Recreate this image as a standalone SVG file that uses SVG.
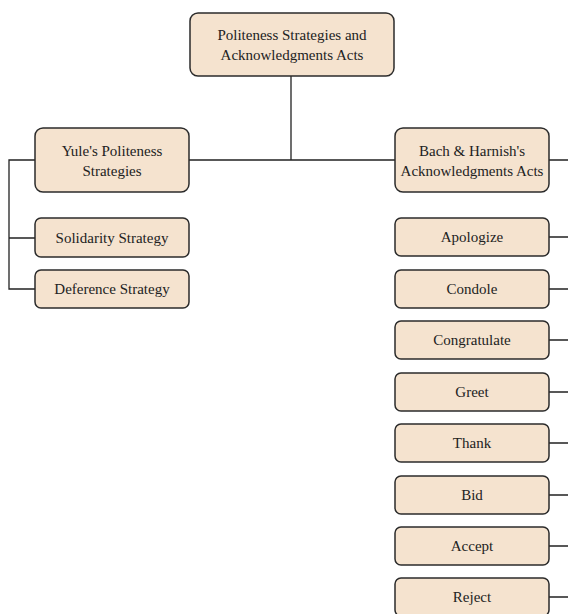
<svg xmlns="http://www.w3.org/2000/svg" width="568" height="614" viewBox="0 0 568 614">
<style>
.box{fill:#f5e3cf;stroke:#2b2b2b;stroke-width:1.5}
.t{font-family:"Liberation Serif","Times New Roman",serif;font-size:15px;fill:#222;text-anchor:middle}
.c{fill:none;stroke:#222;stroke-width:1.3}
</style>
<rect width="568" height="614" fill="#fff"/>
<g id="connectors">
<path class="c" d="M291 76V160M189 160H395M549 160H568"/>
<path class="c" d="M35 160H9V289H35M9 238H35"/>
<path class="c" d="M549 237H568M549 289H568M549 340H568M549 392H568M549 443H568M549 495H568M549 546H568M549 597H568"/>
</g>
<g id="root"><rect class="box" x="190" y="13" width="204" height="63" rx="8"/><text class="t" x="292" y="40">Politeness Strategies and</text><text class="t" x="292" y="60">Acknowledgments Acts</text></g>
<g id="yule"><rect class="box" x="35" y="128" width="154" height="64" rx="8"/><text class="t" x="112" y="156">Yule's Politeness</text><text class="t" x="112" y="176">Strategies</text></g>
<g id="solidarity"><rect class="box" x="35" y="218" width="154" height="39" rx="6"/><text class="t" x="112" y="243">Solidarity Strategy</text></g>
<g id="deference"><rect class="box" x="35" y="270" width="154" height="38" rx="6"/><text class="t" x="112" y="294">Deference Strategy</text></g>
<g id="bach"><rect class="box" x="395" y="128" width="154" height="64" rx="8"/><text class="t" x="472" y="156">Bach &amp; Harnish's</text><text class="t" x="472" y="176">Acknowledgments Acts</text></g>
<g id="apologize"><rect class="box" x="395" y="218" width="154" height="38" rx="6"/><text class="t" x="472" y="242">Apologize</text></g>
<g id="condole"><rect class="box" x="395" y="270" width="154" height="38" rx="6"/><text class="t" x="472" y="294">Condole</text></g>
<g id="congratulate"><rect class="box" x="395" y="321" width="154" height="38" rx="6"/><text class="t" x="472" y="345">Congratulate</text></g>
<g id="greet"><rect class="box" x="395" y="373" width="154" height="38" rx="6"/><text class="t" x="472" y="397">Greet</text></g>
<g id="thank"><rect class="box" x="395" y="424" width="154" height="38" rx="6"/><text class="t" x="472" y="448">Thank</text></g>
<g id="bid"><rect class="box" x="395" y="476" width="154" height="38" rx="6"/><text class="t" x="472" y="500">Bid</text></g>
<g id="accept"><rect class="box" x="395" y="527" width="154" height="38" rx="6"/><text class="t" x="472" y="551">Accept</text></g>
<g id="reject"><rect class="box" x="395" y="578" width="154" height="38" rx="6"/><text class="t" x="472" y="602">Reject</text></g>
</svg>
